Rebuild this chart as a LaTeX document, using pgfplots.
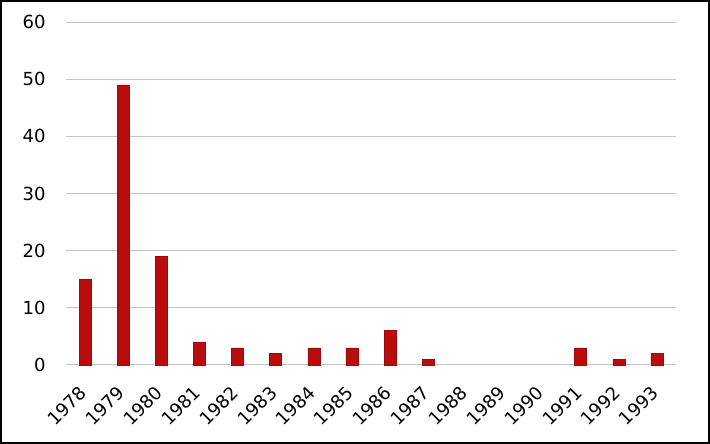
\documentclass[border=0pt]{standalone}
\usepackage{pgfplots}
\pgfplotsset{compat=1.18}
\usepackage{fontspec}
\setmainfont{DejaVu Sans}
\definecolor{barred}{RGB}{185,12,12}
\definecolor{gridgray}{RGB}{195,195,195}
\begin{document}
\begin{tikzpicture}[x=1pt,y=1pt]
\useasboundingbox (0,0) rectangle (710,444);
\begin{axis}[
  at={(66pt,79pt)}, anchor=south west,
  scale only axis,
  width=610pt, height=343pt,
  xmin=-0.5, xmax=15.5,
  ymin=0, ymax=60,
  ytick={0,10,...,60},
  xtick={0,...,15},
  xticklabels={1978,1979,1980,1981,1982,1983,1984,1985,1986,1987,1988,1989,1990,1991,1992,1993},
  ymajorgrids,
  grid style={gridgray, line width=1pt},
  axis line style={draw=none},
  major tick length=0pt,
  /pgf/number format/assume math mode=true,
  ticklabel style={font=\fontsize{18}{21}\selectfont},
  yticklabel style={xshift=-17pt},
  xticklabel style={xshift=-7pt, yshift=-15pt, rotate=45, anchor=north east},
  clip=false,
]
\addplot[ybar, bar width=12pt, fill=barred, draw=barred!85!black, line width=0.5pt]
  coordinates {(0,15) (1,49) (2,19) (3,4) (4,3) (5,2) (6,3) (7,3) (8,6) (9,1) (13,3) (14,1) (15,2)};
\end{axis}
\draw[black, line width=2pt] (1,1) rectangle (709,443);
\end{tikzpicture}
\end{document}
